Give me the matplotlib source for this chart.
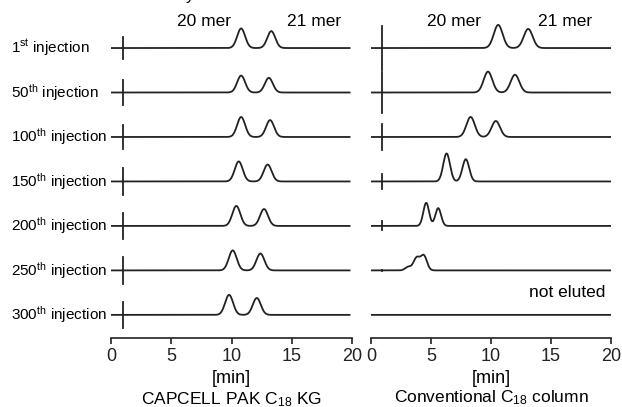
import numpy as np
import matplotlib.pyplot as plt
from matplotlib.transforms import blended_transform_factory

plt.rcParams["font.family"] = ["Liberation Sans", "DejaVu Sans"]
plt.rcParams["mathtext.fontset"] = "custom"
plt.rcParams["mathtext.rm"] = "Liberation Sans"
plt.rcParams["mathtext.it"] = "Liberation Sans"

# ---- data ----
labels = ["1$^{\\rm st}$ injection", "50$^{\\rm th}$ injection", "100$^{\\rm th}$ injection",
          "150$^{\\rm th}$ injection", "200$^{\\rm th}$ injection", "250$^{\\rm th}$ injection",
          "300$^{\\rm th}$ injection"]

# CAPCELL PAK C18 KG: retention times (min) and peak heights of 20 mer / 21 mer
capcell_rt20 = [10.8, 10.8, 10.8, 10.6, 10.4, 10.1, 9.8]
capcell_rt21 = [13.3, 13.1, 13.2, 13.0, 12.7, 12.4, 12.1]
capcell_h20 = [0.44, 0.38, 0.45, 0.45, 0.45, 0.45, 0.45]
capcell_h21 = [0.38, 0.33, 0.38, 0.38, 0.38, 0.38, 0.38]
capcell_sigma = [0.33, 0.33, 0.33, 0.33, 0.33, 0.33, 0.33]
capcell_inj = [0.25, 0.28, 0.27, 0.3, 0.3, 0.3, 0.3]

# Conventional C18 column
conv_rt20 = [10.6, 9.75, 8.3, 6.3, 4.6, 3.8, None]
conv_rt21 = [13.1, 12.0, 10.4, 7.9, 5.6, 4.4, None]
conv_h20 = [0.52, 0.47, 0.45, 0.63, 0.52, 0.28, 0.0]
conv_h21 = [0.43, 0.40, 0.36, 0.50, 0.40, 0.33, 0.0]
conv_sigma = [0.37, 0.36, 0.35, 0.28, 0.24, 0.26, 0.3]
conv_inj = [0.5, 0.45, 0.3, 0.17, 0.1, 0.02, 0.0]
conv_shoulder_rt = 3.1      # small shoulder on the 250th trace
conv_shoulder_h = 0.08

inj_time = 1.0
t = np.linspace(0, 20, 1200)


def peak(rt, h, s):
    if rt is None:
        return np.zeros_like(t)
    return h * np.exp(-0.5 * ((t - rt) / s) ** 2)


fig = plt.figure(figsize=(6.22, 4.07), dpi=100)
ax1 = fig.add_axes([111 / 622, 1 - 338 / 407, 241 / 622, 338 / 407])
ax2 = fig.add_axes([371 / 622, 1 - 338 / 407, 240 / 622, 338 / 407])
label_trans = blended_transform_factory(fig.transFigure, ax1.transData)

n = len(labels)
for i in range(n):
    base = n - 1 - i
    # left panel
    y = base + peak(capcell_rt20[i], capcell_h20[i], capcell_sigma[i]) \
        + peak(capcell_rt21[i], capcell_h21[i], capcell_sigma[i])
    m = t <= 19.8
    ax1.plot(t[m], y[m], color="#222222", lw=1.3)
    ax1.plot([inj_time, inj_time], [base - capcell_inj[i], base + capcell_inj[i]],
             color="#222222", lw=1.3)
    ax1.text(11 / 622, base, labels[i], ha="left", va="center", fontsize=11,
             transform=label_trans)

    # right panel
    y = base + peak(conv_rt20[i], conv_h20[i], conv_sigma[i]) \
        + peak(conv_rt21[i], conv_h21[i], conv_sigma[i])
    if i == 5:
        y = y + peak(conv_shoulder_rt, conv_shoulder_h, 0.25)
    ax2.plot(t, y, color="#222222", lw=1.3)
    if conv_inj[i] > 0:
        ax2.plot([0.95, 0.95], [base - conv_inj[i], base + conv_inj[i]],
                 color="#222222", lw=1.3)

for ax in (ax1, ax2):
    ax.set_xlim(0, 20)
    ax.set_ylim(-0.52, 7.08)
    for s in ("left", "right", "top"):
        ax.spines[s].set_visible(False)
    ax.spines["bottom"].set_linewidth(1.2)
    ax.spines["bottom"].set_color("#222222")
    ax.set_yticks([])
    ax.set_xticks([0, 5, 10, 15, 20])
    ax.tick_params(axis="x", direction="out", length=4, width=1.2,
                   labelsize=13, pad=3, colors="#222222")
    ax.set_xlabel("[min]", fontsize=13, labelpad=4)
    ax.patch.set_alpha(0)

ax2.text(19.5, 0.5, "not eluted", ha="right", va="center", fontsize=12.5)

# peak names at the top
fig.text(204 / 622, 1 - 22 / 407, "20 mer", ha="center", va="center", fontsize=12.5)
fig.text(314 / 622, 1 - 22 / 407, "21 mer", ha="center", va="center", fontsize=12.5)
fig.text(454 / 622, 1 - 22 / 407, "20 mer", ha="center", va="center", fontsize=12.5)
fig.text(565 / 622, 1 - 22 / 407, "21 mer", ha="center", va="center", fontsize=12.5)
fig.text(190 / 622, 1.0, "y", ha="center", va="baseline", fontsize=12)

fig.text(231 / 622, 1 - 400 / 407, "CAPCELL PAK C$_{18}$ KG", ha="center", va="center",
         fontsize=12.5)
fig.text(491 / 622, 1 - 398 / 407, "Conventional C$_{18}$ column", ha="center",
         va="center", fontsize=12.5)

fig.savefig("out.png", dpi=100)
